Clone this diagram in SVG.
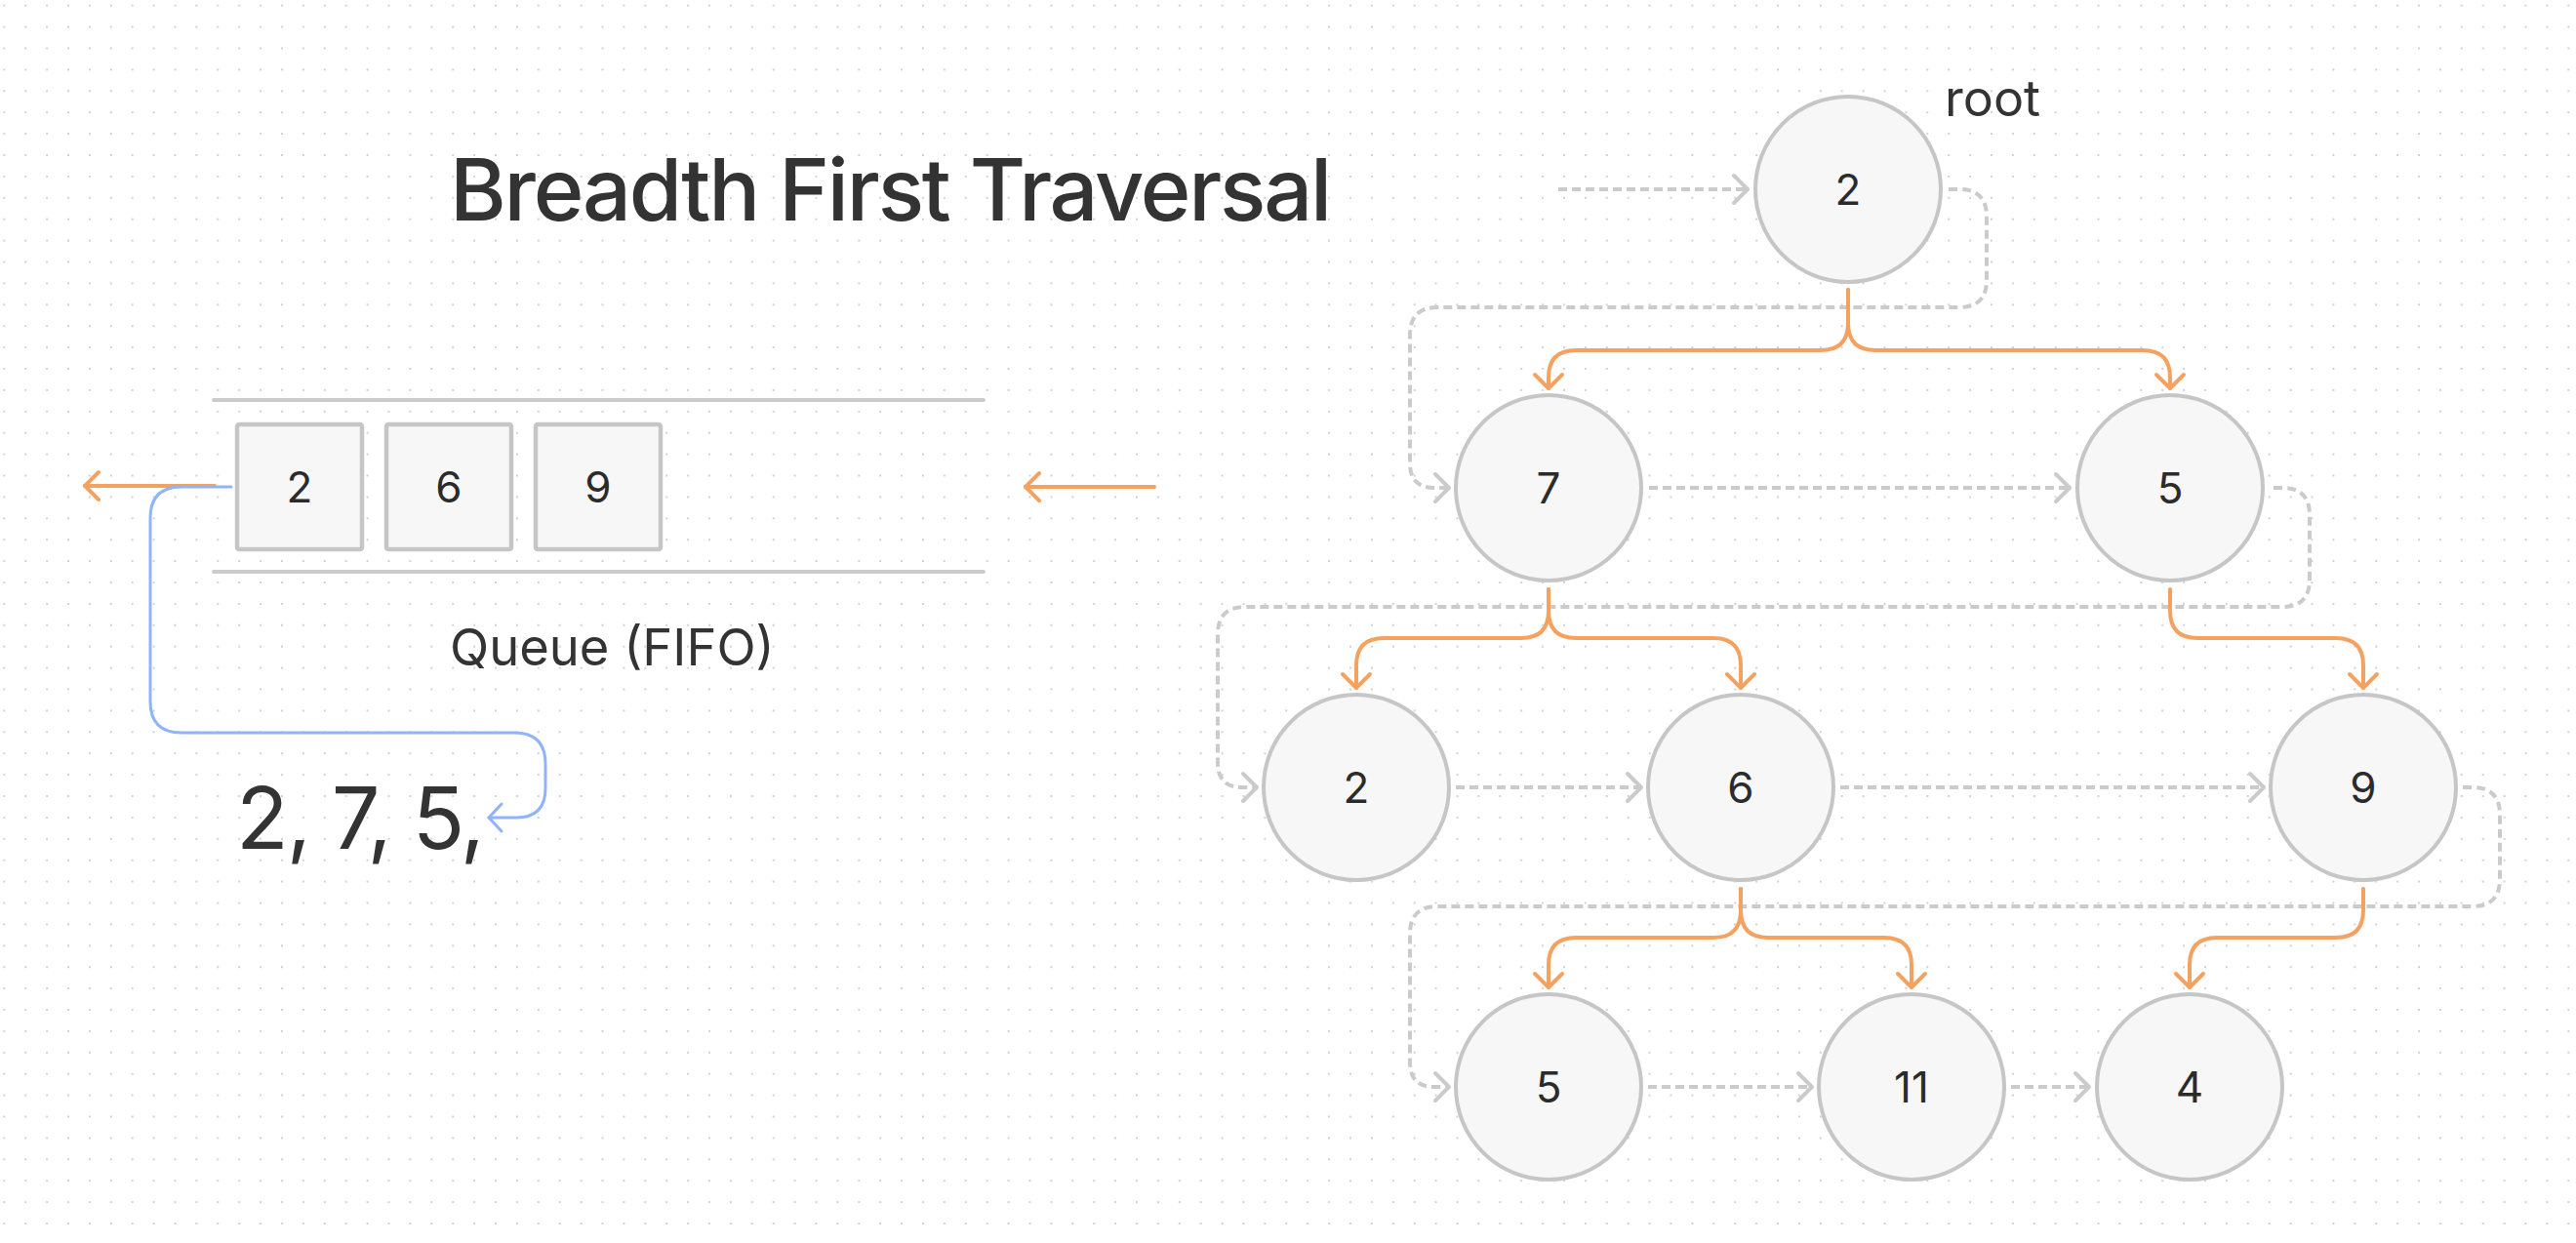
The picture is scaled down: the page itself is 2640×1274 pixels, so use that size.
<svg xmlns="http://www.w3.org/2000/svg" width="2640" height="1274" viewBox="0 0 2640 1274">
<defs>
<pattern id="dots" x="4.3" y="5.7" width="21.9" height="21.9" patternUnits="userSpaceOnUse">
<rect x="-1" y="-1" width="2" height="2" fill="#d2d2d2"/>
<rect x="20.9" y="-1" width="2" height="2" fill="#d2d2d2"/>
<rect x="-1" y="20.9" width="2" height="2" fill="#d2d2d2"/>
<rect x="20.9" y="20.9" width="2" height="2" fill="#d2d2d2"/>
</pattern>
<marker id="ao" viewBox="-20 -20 24 40" refX="0" refY="0" markerWidth="24" markerHeight="40" markerUnits="userSpaceOnUse" orient="auto">
<path d="M-14,-14 L0,0 L-14,14" fill="none" stroke="#f4a261" stroke-width="4" stroke-linecap="round" stroke-linejoin="round"/>
</marker>
<marker id="ag" viewBox="-20 -20 24 40" refX="0" refY="0" markerWidth="24" markerHeight="40" markerUnits="userSpaceOnUse" orient="auto">
<path d="M-14,-14 L0,0 L-14,14" fill="none" stroke="#cbcbcb" stroke-width="4" stroke-linecap="round" stroke-linejoin="round"/>
</marker>
<marker id="ab" viewBox="-20 -20 24 40" refX="0" refY="0" markerWidth="24" markerHeight="40" markerUnits="userSpaceOnUse" orient="auto">
<path d="M-13,-14 L0,0 L-13,14" fill="none" stroke="#8fb4fb" stroke-width="3" stroke-linecap="round" stroke-linejoin="round"/>
</marker>
</defs>
<style>
.txt{font-family:Inter,"Liberation Sans",sans-serif;fill:#333333}
.node circle{fill:#f7f7f7;stroke:#c6c6c6;stroke-width:4}
.node text{font-family:Inter,"Liberation Sans",sans-serif;font-size:44px;fill:#2b2b2b;text-anchor:middle;dominant-baseline:central}
.box rect{fill:#f7f7f7;stroke:#c6c6c6;stroke-width:4.5}
.box text{font-family:Inter,"Liberation Sans",sans-serif;font-size:44px;fill:#2b2b2b;text-anchor:middle;dominant-baseline:central}
.or{fill:none;stroke:#f4a261;stroke-width:4;stroke-linecap:round;marker-end:url(#ao)}
.gr{fill:none;stroke:#cbcbcb;stroke-width:4;stroke-dasharray:9 5;marker-end:url(#ag)}
.bl{fill:none;stroke:#8fb4fb;stroke-width:3;stroke-linecap:round;marker-end:url(#ab)}
.rule{stroke:#cccccc;stroke-width:4;stroke-linecap:round}
</style>
<rect width="2640" height="1274" fill="#ffffff"/>
<rect width="2640" height="1274" fill="url(#dots)"/>

<text class="txt" x="461" y="226" font-size="88" font-weight="500" letter-spacing="-2.2">Breadth First Traversal</text>
<text class="txt" x="1993" y="119" font-size="52">root</text>

<g id="queue">
<line class="rule" x1="219" y1="410" x2="1008" y2="410"/>
<line class="rule" x1="219" y1="586" x2="1008" y2="586"/>
<text class="txt" x="461" y="682" font-size="52.5">Queue (FIFO)</text>
</g>
<g id="q-2" class="box"><rect x="243" y="435" width="128" height="128" rx="2"/><text x="307" y="499">2</text></g>
<g id="q-6" class="box"><rect x="396" y="435" width="128" height="128" rx="2"/><text x="460" y="499">6</text></g>
<g id="q-9" class="box"><rect x="549" y="435" width="128" height="128" rx="2"/><text x="613" y="499">9</text></g>

<text id="output" class="txt" x="242" y="870" font-size="88" letter-spacing="-2">2, 7, 5,</text>

<g id="connectors">
<path class="or" d="M220,498 H87"/>
<path class="or" d="M1183,499 H1051"/>
<path class="bl" d="M237,499 H186 Q154,499 154,531 V719 Q154,751 186,751 H527 Q559,751 559,783 V808 Q559,838 529,838 H501"/>

<path class="gr" d="M1597,194 H1791"/>
<path class="gr" d="M1997,194 H2008 Q2036,194 2036,222 V287 Q2036,315 2008,315 H1473 Q1445,315 1445,343 V475 Q1445,500 1470,500 H1485"/>
<path class="gr" d="M1690,500 H2121"/>
<path class="gr" d="M2330,500 H2339 Q2367,500 2367,528 V594 Q2367,622 2339,622 H1276 Q1248,622 1248,650 V782 Q1248,807 1273,807 H1288"/>
<path class="gr" d="M1492,807 H1682"/>
<path class="gr" d="M1886,807 H2320"/>
<path class="gr" d="M2524,807 H2534 Q2562,807 2562,835 V901 Q2562,929 2534,929 H1473 Q1445,929 1445,957 V1089 Q1445,1114 1470,1114 H1485"/>
<path class="gr" d="M1689,1114 H1857"/>
<path class="gr" d="M2061,1114 H2141"/>

<path class="or" d="M1894,297 V331 Q1894,359 1866,359 H1615 Q1587,359 1587,387 V398"/>
<path class="or" d="M1894,297 V331 Q1894,359 1922,359 H2196 Q2224,359 2224,387 V398"/>
<path class="or" d="M1587,604 V626 Q1587,654 1559,654 H1418 Q1390,654 1390,682 V705"/>
<path class="or" d="M1587,604 V626 Q1587,654 1615,654 H1756 Q1784,654 1784,682 V705"/>
<path class="or" d="M2224,604 V626 Q2224,654 2252,654 H2394 Q2422,654 2422,682 V705"/>
<path class="or" d="M1784,911 V933 Q1784,961 1756,961 H1615 Q1587,961 1587,989 V1012"/>
<path class="or" d="M1784,911 V933 Q1784,961 1812,961 H1931 Q1959,961 1959,989 V1012"/>
<path class="or" d="M2422,911 V933 Q2422,961 2394,961 H2272 Q2244,961 2244,989 V1012"/>
</g>

<g id="n-root" class="node"><circle cx="1894" cy="194" r="95"/><text x="1894" y="194">2</text></g>
<g id="n-7" class="node"><circle cx="1587" cy="500" r="95"/><text x="1587" y="500">7</text></g>
<g id="n-5a" class="node"><circle cx="2224" cy="500" r="95"/><text x="2224" y="500">5</text></g>
<g id="n-2" class="node"><circle cx="1390" cy="807" r="95"/><text x="1390" y="807">2</text></g>
<g id="n-6" class="node"><circle cx="1784" cy="807" r="95"/><text x="1784" y="807">6</text></g>
<g id="n-9" class="node"><circle cx="2422" cy="807" r="95"/><text x="2422" y="807">9</text></g>
<g id="n-5b" class="node"><circle cx="1587" cy="1114" r="95"/><text x="1587" y="1114">5</text></g>
<g id="n-11" class="node"><circle cx="1959" cy="1114" r="95"/><text x="1959" y="1114">11</text></g>
<g id="n-4" class="node"><circle cx="2244" cy="1114" r="95"/><text x="2244" y="1114">4</text></g>
</svg>
